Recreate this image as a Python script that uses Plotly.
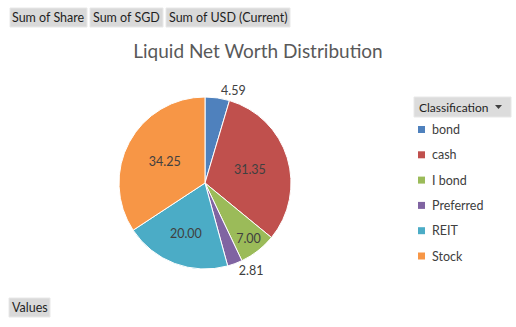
import plotly.graph_objects as go

# Portfolio breakdown (percent of liquid net worth)
labels = ["bond", "cash", "I bond", "Preferred", "REIT", "Stock"]
shares = [4.59, 31.35, 7.00, 2.81, 20.00, 34.25]
colors = ["#4F81BD", "#C0504D", "#9BBB59", "#8064A2", "#4BACC6", "#F79646"]
text_pos = ["outside", "inside", "inside", "outside", "inside", "inside"]
field_buttons = ["Sum of Share", "Sum of SGD", "Sum of USD (Current)"]

W, H = 516, 327
FONT = "Lato, Carlito, Calibri, sans-serif"


def px(x):
    return x / W


def py(y):
    return 1 - y / H


fig = go.Figure(
    go.Pie(
        labels=labels,
        values=shares,
        sort=False,
        direction="clockwise",
        rotation=0,
        marker=dict(colors=colors, line=dict(color="white", width=1)),
        texttemplate="%{value:.2f}",
        textposition=text_pos,
        insidetextorientation="horizontal",
        textfont=dict(family=FONT, size=12.5, color="#404040"),
        outsidetextfont=dict(family=FONT, size=12.5, color="#404040"),
        hoverinfo="label+value",
        showlegend=False,
        domain=dict(x=[px(205 - 86), px(205 + 86)], y=[py(269), py(97)]),
    )
)

shapes = []
annotations = []

# Pivot field buttons along the top
btn_x = [10, 90, 166]
btn_w = [77, 73, 124]
for name, x0, w in zip(field_buttons, btn_x, btn_w):
    shapes.append(dict(type="rect", xref="paper", yref="paper",
                       x0=px(x0), x1=px(x0 + w), y0=py(27), y1=py(8),
                       fillcolor="#D9D9D9", line=dict(color="#E8E8E8", width=1)))
    annotations.append(dict(text=name, x=px(x0 + w / 2), y=py(17.5), xref="paper", yref="paper",
                            showarrow=False, xanchor="center", yanchor="middle",
                            font=dict(family=FONT, size=12.5, color="#1F1F1F")))

# Values button at the bottom
shapes.append(dict(type="rect", xref="paper", yref="paper",
                   x0=px(9), x1=px(50), y0=py(317), y1=py(298),
                   fillcolor="#D9D9D9", line=dict(color="#E8E8E8", width=1)))
annotations.append(dict(text="Values", x=px(29.5), y=py(307.5), xref="paper", yref="paper",
                        showarrow=False, xanchor="center", yanchor="middle",
                        font=dict(family=FONT, size=12.5, color="#1F1F1F")))

# Legend header with dropdown
shapes.append(dict(type="rect", xref="paper", yref="paper",
                   x0=px(414), x1=px(511), y0=py(117), y1=py(97),
                   fillcolor="#DCDCDC", line=dict(color="#E8E8E8", width=1)))
annotations.append(dict(text="Classification", x=px(417), y=py(107), xref="paper", yref="paper",
                        showarrow=False, xanchor="left", yanchor="middle",
                        font=dict(family=FONT, size=12, color="#1F1F1F")))
shapes.append(dict(type="path", xref="paper", yref="paper",
                   path=f"M {px(495)} {py(105)} L {px(502)} {py(105)} L {px(498.5)} {py(109)} Z",
                   fillcolor="#404040", line=dict(width=0)))

# Legend entries
for i, (lab, col) in enumerate(zip(labels, colors)):
    yc = 129.5 + i * 25.3
    shapes.append(dict(type="rect", xref="paper", yref="paper",
                       x0=px(418), x1=px(425), y0=py(yc + 3.5), y1=py(yc - 3.5),
                       fillcolor=col, line=dict(width=0)))
    annotations.append(dict(text=lab, x=px(430), y=py(yc), xref="paper", yref="paper",
                            showarrow=False, xanchor="left", yanchor="middle",
                            font=dict(family=FONT, size=12.5, color="#404040")))

fig.update_layout(
    width=W, height=H,
    margin=dict(l=0, r=0, t=0, b=0),
    paper_bgcolor="white",
    plot_bgcolor="white",
    title=dict(text="Liquid Net Worth Distribution", x=px(258), y=py(51),
               xanchor="center", yanchor="middle",
               font=dict(family=FONT, size=19, color="#595959")),
    shapes=shapes,
    annotations=annotations,
)

fig.write_html("out.html")
